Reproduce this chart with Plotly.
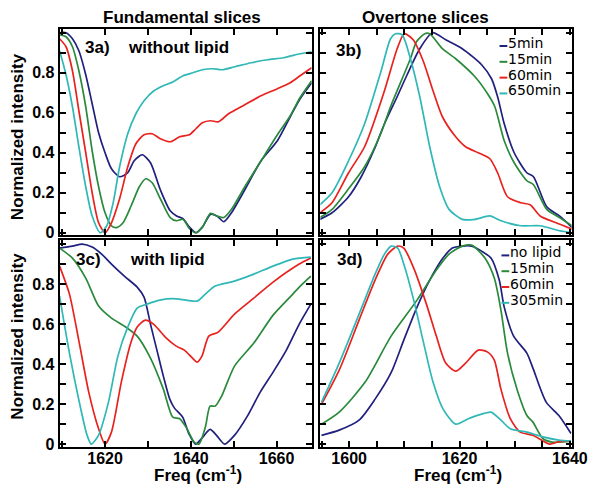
import plotly.graph_objects as go

W, H = 600, 486

# ---------------- data ----------------
labels_b = ["5min", "15min", "60min", "650min"]
labels_d = ["no lipid", "15min", "60min", "305min"]
colors = ["#20207f", "#2a8a3c", "#e8221e", "#30b7b7"]

# Panel 3a: fundamental, without lipid
a5_x = [1609.4, 1610.9, 1612.4, 1613.9, 1615.5, 1617.0, 1618.5, 1620.0, 1621.5, 1623.4, 1625.3, 1626.8, 1628.7,
        1630.6, 1632.9, 1635.2, 1636.7, 1638.2, 1639.7, 1641.2, 1642.7, 1644.6, 1646.1, 1647.7, 1649.5, 1652.6,
        1656.4, 1660.2, 1663.2, 1665.5, 1668.2]
a5_y = [1.0, 1.0, 0.97, 0.91, 0.79, 0.645, 0.5, 0.4, 0.32, 0.28, 0.3, 0.36, 0.39,
        0.35, 0.215, 0.11, 0.084, 0.07, 0.028, 0.0, 0.028, 0.092, 0.084, 0.055, 0.1, 0.215,
        0.36, 0.46, 0.58, 0.67, 0.75]
a15_x = [1609.4, 1610.9, 1612.4, 1613.9, 1615.5, 1617.0, 1618.5, 1620.0, 1621.5, 1622.7, 1624.2, 1626.1, 1628.0,
         1629.5, 1631.0, 1632.9, 1635.2, 1636.7, 1638.2, 1639.7, 1641.2, 1642.7, 1644.6, 1646.1, 1647.7, 1649.5,
         1652.6, 1656.4, 1660.2, 1663.2, 1665.5, 1668.2]
a15_y = [0.99, 0.98, 0.93, 0.81, 0.63, 0.41, 0.23, 0.1, 0.035, 0.026, 0.05, 0.135, 0.23,
         0.27, 0.25, 0.17, 0.076, 0.06, 0.067, 0.02, 0.0, 0.028, 0.097, 0.084, 0.076, 0.117,
         0.23, 0.36, 0.49, 0.585, 0.676, 0.76]
a60_x = [1609.4, 1610.9, 1612.4, 1613.9, 1615.5, 1617.0, 1618.5, 1620.0, 1621.5, 1623.4, 1625.3, 1627.2, 1629.1,
         1631.0, 1632.9, 1635.2, 1637.4, 1639.7, 1641.2, 1642.7, 1644.6, 1646.5, 1648.8, 1652.6, 1656.4, 1660.2,
         1663.2, 1665.5, 1668.2]
a60_y = [0.97, 0.93, 0.81, 0.61, 0.4, 0.2, 0.05, 0.0, 0.05, 0.17, 0.33, 0.445, 0.49,
         0.495, 0.47, 0.455, 0.48, 0.49, 0.52, 0.55, 0.56, 0.555, 0.595, 0.64, 0.685, 0.72,
         0.75, 0.785, 0.825]
a650_x = [1609.4, 1610.9, 1612.4, 1613.9, 1615.5, 1617.0, 1618.9, 1620.4, 1621.9, 1623.4, 1625.3, 1627.2, 1629.1,
          1631.4, 1633.6, 1635.9, 1638.2, 1640.5, 1642.7, 1645.0, 1647.3, 1650.3, 1654.1, 1657.9, 1661.7, 1665.5,
          1668.2]
a650_y = [0.91, 0.79, 0.63, 0.43, 0.23, 0.084, 0.0, 0.035, 0.15, 0.33, 0.495, 0.595, 0.66,
          0.71, 0.735, 0.755, 0.785, 0.8, 0.815, 0.82, 0.815, 0.83, 0.85, 0.865, 0.875, 0.895,
          0.905]

# Panel 3b: overtone, without lipid
b5_x = [1594.7, 1596.9, 1599.9, 1602.2, 1604.6, 1606.4, 1608.7, 1610.5, 1612.8, 1615.1, 1617.5, 1620.5, 1624.0,
        1625.8, 1626.9, 1628.1, 1629.9, 1632.2, 1633.4, 1635.8, 1638.1, 1640.4]
b5_y = [0.067, 0.1, 0.18, 0.28, 0.42, 0.545, 0.68, 0.79, 0.92, 1.0, 0.965, 0.92, 0.84,
        0.77, 0.68, 0.545, 0.4, 0.3, 0.28, 0.13, 0.084, 0.026]
b15_x = [1594.7, 1596.9, 1599.9, 1602.8, 1605.8, 1607.5, 1611.1, 1612.2, 1613.7, 1614.6, 1616.9, 1619.3, 1622.8,
         1625.2, 1626.4, 1628.1, 1629.9, 1632.2, 1633.4, 1635.8, 1638.1, 1640.4]
b15_y = [0.076, 0.117, 0.22, 0.33, 0.5, 0.63, 0.87, 0.955, 0.995, 0.995, 0.92, 0.87, 0.78,
         0.69, 0.63, 0.46, 0.35, 0.26, 0.24, 0.117, 0.076, 0.035]
b60_x = [1594.7, 1596.9, 1599.9, 1602.8, 1606.4, 1608.7, 1610.0, 1611.6, 1613.4, 1615.2, 1616.9, 1619.3, 1621.1,
         1623.4, 1625.5, 1626.9, 1628.7, 1631.1, 1632.8, 1634.6, 1637.5, 1640.4]
b60_y = [0.1, 0.15, 0.3, 0.43, 0.71, 0.92, 0.995, 0.965, 0.86, 0.71, 0.58, 0.48, 0.43,
         0.4, 0.37, 0.3, 0.18, 0.15, 0.14, 0.084, 0.05, 0.018]
b650_x = [1594.7, 1596.9, 1599.9, 1602.8, 1605.8, 1607.5, 1608.4, 1609.6, 1611.1, 1612.8, 1614.6, 1616.4, 1618.1,
          1620.5, 1622.8, 1625.5, 1627.5, 1631.1, 1634.6, 1638.1, 1640.4]
b650_y = [0.14, 0.2, 0.36, 0.545, 0.81, 0.97, 0.995, 0.99, 0.87, 0.68, 0.43, 0.23, 0.117,
          0.067, 0.067, 0.084, 0.06, 0.035, 0.035, 0.01, 0.0]

# Panel 3c: fundamental, with lipid
c5_x = [1609.4, 1612.4, 1614.7, 1617.0, 1619.2, 1621.5, 1624.5, 1627.5, 1629.1, 1630.6, 1632.1, 1633.6, 1635.1,
        1636.2, 1638.1, 1639.6, 1641.1, 1642.6, 1644.5, 1646.0, 1647.9, 1650.2, 1653.2, 1656.2, 1659.2, 1662.3,
        1665.3, 1668.0]
c5_y = [0.98, 0.99, 1.0, 0.985, 0.95, 0.9, 0.84, 0.785, 0.735, 0.6, 0.47, 0.34, 0.225,
        0.18, 0.135, 0.05, 0.0, 0.03, 0.074, 0.044, 0.0, 0.044, 0.14, 0.26, 0.36, 0.47,
        0.6, 0.7]
c15_x = [1609.4, 1612.4, 1615.5, 1618.5, 1621.5, 1624.5, 1627.5, 1630.6, 1633.6, 1635.8, 1637.4, 1638.9, 1640.8,
         1641.9, 1643.4, 1644.5, 1645.7, 1647.2, 1650.2, 1654.7, 1659.2, 1663.8, 1665.3, 1668.0]
c15_y = [0.98, 0.93, 0.83, 0.69, 0.63, 0.59, 0.54, 0.43, 0.275, 0.135, 0.127, 0.085, 0.01,
         0.0, 0.085, 0.19, 0.19, 0.24, 0.39, 0.505, 0.645, 0.75, 0.785, 0.84]
c60_x = [1609.4, 1611.7, 1614.0, 1616.2, 1618.5, 1620.0, 1621.5, 1623.8, 1626.0, 1627.5, 1629.4, 1631.3, 1634.3,
         1636.6, 1638.5, 1640.4, 1641.5, 1642.6, 1644.2, 1646.4, 1650.2, 1654.7, 1659.2, 1665.3, 1668.0]
c60_y = [0.89, 0.75, 0.505, 0.26, 0.077, 0.0, 0.06, 0.31, 0.505, 0.585, 0.62, 0.6, 0.53,
         0.49, 0.47, 0.43, 0.41, 0.44, 0.54, 0.56, 0.65, 0.73, 0.81, 0.9, 0.93]
c305_x = [1609.4, 1611.7, 1614.0, 1615.8, 1616.8, 1618.5, 1620.8, 1623.0, 1625.3, 1627.5, 1629.8, 1632.8, 1635.8,
          1638.9, 1641.5, 1643.4, 1645.7, 1650.2, 1654.7, 1659.2, 1663.8, 1668.0]
c305_y = [0.74, 0.455, 0.21, 0.045, 0.0, 0.045, 0.21, 0.44, 0.585, 0.68, 0.7, 0.72, 0.727,
          0.72, 0.715, 0.75, 0.79, 0.815, 0.85, 0.89, 0.925, 0.935]

# Panel 3d: overtone, with lipid
d0_x = [1595.0, 1598.2, 1601.8, 1604.7, 1607.6, 1609.9, 1612.3, 1614.6, 1617.0, 1618.7, 1620.5, 1622.2, 1624.0,
        1625.7, 1627.2, 1628.1, 1629.8, 1632.2, 1633.3, 1635.7, 1638.0, 1640.2]
d0_y = [0.044, 0.07, 0.12, 0.225, 0.357, 0.52, 0.685, 0.82, 0.93, 0.98, 0.99, 0.99, 0.965,
        0.93, 0.82, 0.685, 0.54, 0.455, 0.38, 0.21, 0.143, 0.053]
d15_x = [1595.0, 1598.2, 1602.9, 1607.6, 1612.3, 1615.8, 1618.1, 1620.5, 1622.2, 1624.6, 1626.3, 1627.5, 1628.7,
         1630.4, 1632.2, 1633.3, 1635.1, 1636.8, 1640.2]
d15_y = [0.1, 0.16, 0.31, 0.54, 0.72, 0.87, 0.95, 0.99, 0.995, 0.93, 0.83, 0.67, 0.455,
         0.275, 0.143, 0.11, 0.028, 0.01, 0.015]
d60_x = [1595.0, 1598.2, 1601.8, 1604.7, 1607.0, 1608.8, 1609.9, 1611.7, 1614.0, 1615.8, 1617.5, 1619.3, 1621.1,
         1623.4, 1625.1, 1626.3, 1627.5, 1629.2, 1631.0, 1633.3, 1636.3, 1638.0, 1640.2]
d60_y = [0.2, 0.37, 0.62, 0.82, 0.95, 0.99, 0.98, 0.88, 0.7, 0.54, 0.405, 0.365, 0.405,
         0.47, 0.46, 0.42, 0.275, 0.127, 0.06, 0.044, 0.0, 0.012, 0.015]
d305_x = [1595.0, 1598.2, 1601.8, 1604.7, 1606.4, 1607.6, 1608.8, 1609.9, 1611.7, 1613.5, 1615.2, 1617.0, 1619.3,
          1621.6, 1624.0, 1625.7, 1627.5, 1629.2, 1632.2, 1635.1, 1638.0, 1640.2]
d305_y = [0.21, 0.405, 0.65, 0.85, 0.95, 0.99, 0.98, 0.9, 0.72, 0.505, 0.31, 0.176, 0.1,
          0.127, 0.15, 0.16, 0.12, 0.077, 0.06, 0.036, 0.02, 0.015]

panel_series = {
    1: [(a5_x, a5_y), (a15_x, a15_y), (a60_x, a60_y), (a650_x, a650_y)],
    2: [(b5_x, b5_y), (b15_x, b15_y), (b60_x, b60_y), (b650_x, b650_y)],
    3: [(c5_x, c5_y), (c15_x, c15_y), (c60_x, c60_y), (c305_x, c305_y)],
    4: [(d0_x, d0_y), (d15_x, d15_y), (d60_x, d60_y), (d305_x, d305_y)],
}

fund_ticks = [1620, 1640, 1660]
over_ticks = [1600, 1620, 1640]
y_ticks = [0, 0.2, 0.4, 0.6, 0.8]
y_ticktext = ["0", "0.2", "0.4", "0.6", "0.8"]

FONT = "Liberation Sans, Arial, sans-serif"

# ---------------- layout geometry ----------------
def px_x(p):
    return p / W

def px_y(p):
    return 1 - p / H

left_dom = [px_x(53), px_x(312)]
right_dom = [px_x(321), px_x(579)]
top_dom = [px_y(230), px_y(21)]
bot_dom = [px_y(444), px_y(235)]

fig = go.Figure()
for k, series in panel_series.items():
    for (xs, ys), col in zip(series, colors):
        fig.add_trace(go.Scatter(
            x=xs, y=ys, mode="lines",
            line=dict(color=col, width=1.7, shape="spline", smoothing=0.7),
            xaxis="x" if k == 1 else f"x{k}", yaxis="y" if k == 1 else f"y{k}",
            showlegend=False, hoverinfo="skip"))

tickfont = dict(family=FONT, size=16, color="black")
axis_common = dict(showline=True, linecolor="black", linewidth=2, mirror="allticks",
                   ticks="inside", ticklen=6, tickwidth=1.5, tickcolor="black",
                   showgrid=False, zeroline=False, tickfont=tickfont)

def xaxis(dom, rng, tv, labels, anchor, minor_dtick):
    return dict(axis_common, domain=dom, range=rng, anchor=anchor,
                tickvals=tv, ticktext=[f"<b>{v}</b>" for v in tv], showticklabels=labels,
                ticklabelstandoff=-4,
                minor=dict(dtick=minor_dtick, tick0=1600, ticks="inside", ticklen=6,
                           tickwidth=1.5, tickcolor="black"))

def yaxis(dom, anchor, labels):
    return dict(axis_common, domain=dom, range=[-0.012, 1.02], anchor=anchor,
                tickvals=y_ticks, ticktext=[f"<b>{t}</b>" for t in y_ticktext],
                showticklabels=labels,
                minor=dict(dtick=0.1, tick0=0, ticks="inside", ticklen=6,
                           tickwidth=1.5, tickcolor="black"))

fig.update_layout(
    width=W, height=H, margin=dict(l=0, r=0, t=0, b=0),
    paper_bgcolor="white", plot_bgcolor="white",
    font=dict(family=FONT, color="black"),
    xaxis=xaxis(left_dom, [1609.4, 1668.2], fund_ticks, False, "y", 10),
    yaxis=yaxis(top_dom, "x", True),
    xaxis2=xaxis(right_dom, [1594.8, 1640.3], over_ticks, False, "y2", 5),
    yaxis2=yaxis(top_dom, "x2", False),
    xaxis3=xaxis(left_dom, [1609.4, 1668.2], fund_ticks, True, "y3", 10),
    yaxis3=yaxis(bot_dom, "x3", True),
    xaxis4=xaxis(right_dom, [1594.8, 1640.3], over_ticks, True, "y4", 5),
    yaxis4=yaxis(bot_dom, "x4", False),
)

annots = []
def add_text(x, y, text, size=17, anchor="center", family=FONT, angle=0, bold=True):
    annots.append(dict(x=px_x(x), y=px_y(y), xref="paper", yref="paper", text=text,
                       showarrow=False, xanchor=anchor, yanchor="middle", textangle=angle,
                       borderpad=0,
                       font=dict(family=family, size=size, color="black",
                                 weight="bold" if bold else "normal")))

add_text(179, 10, "Fundamental slices")
add_text(429, 10, "Overtone slices")
add_text(10, 130, "Normalized intensity", angle=-90)
add_text(10, 332, "Normalized intensity", angle=-90)
add_text(195, 472, "Freq (cm<sup>-1</sup>)")
add_text(462, 472, "Freq (cm<sup>-1</sup>)")
add_text(78, 40, "3a)", anchor="left")
add_text(122, 40, "without lipid", anchor="left")
add_text(336, 43, "3b)", anchor="left")
add_text(69, 255, "3c)", anchor="left")
add_text(124, 255, "with lipid", anchor="left")
add_text(337, 255, "3d)", anchor="left")

shapes = []
leg_b_y = [35.5, 51.5, 67.5, 83.5]
leg_d_y = [247.5, 263.5, 279.5, 295.5]
for lab, col, yy in zip(labels_b, colors, leg_b_y):
    add_text(513, yy, lab, size=14, anchor="left", family="DejaVu Sans, sans-serif", bold=False)
    shapes.append(dict(type="line", xref="paper", yref="paper", x0=px_x(505), x1=px_x(513),
                       y0=px_y(yy + 3), y1=px_y(yy + 3), line=dict(color=col, width=2)))
for lab, col, yy in zip(labels_d, colors, leg_d_y):
    add_text(515, yy, lab, size=14, anchor="left", family="DejaVu Sans, sans-serif", bold=False)
    shapes.append(dict(type="line", xref="paper", yref="paper", x0=px_x(507), x1=px_x(515),
                       y0=px_y(yy + 3), y1=px_y(yy + 3), line=dict(color=col, width=2)))

fig.update_layout(annotations=annots, shapes=shapes)
fig.write_html("out.html")
